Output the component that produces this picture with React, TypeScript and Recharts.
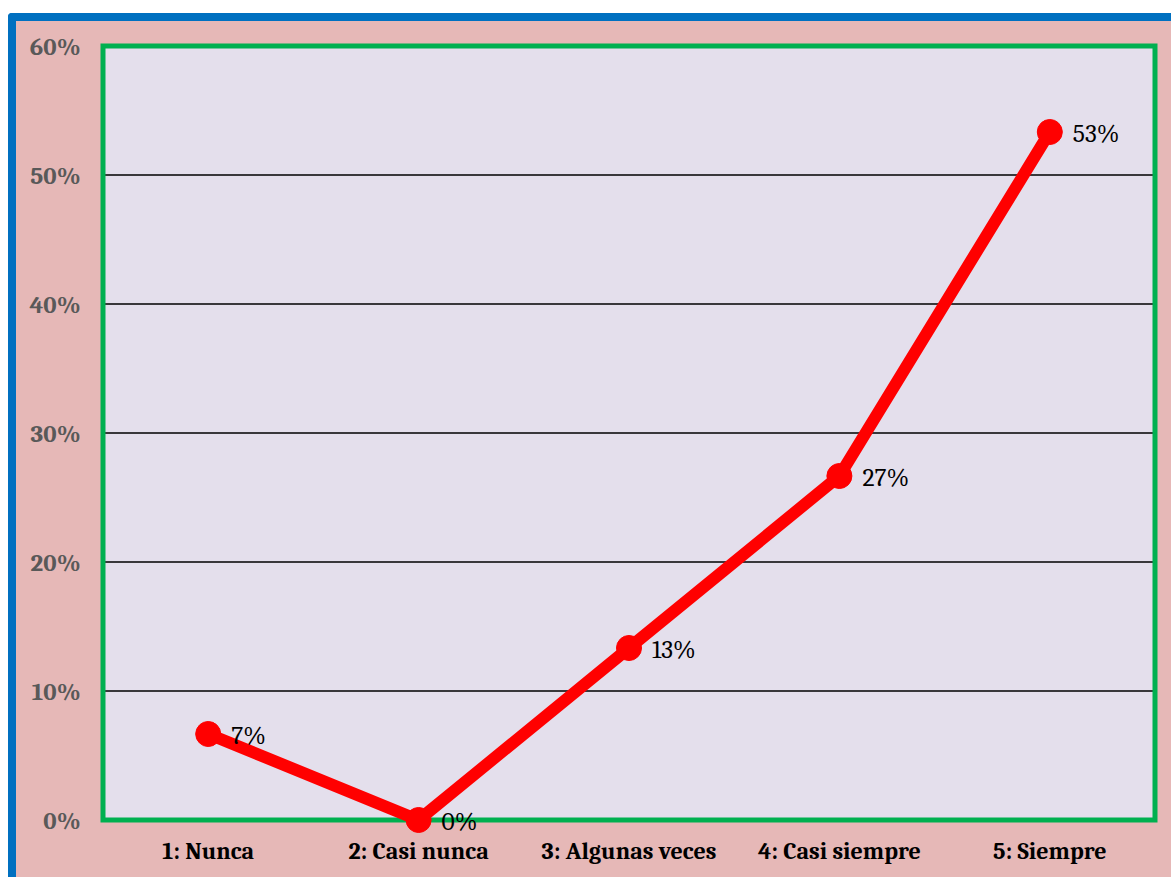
import React from "react";
import {
  LineChart,
  Line,
  XAxis,
  YAxis,
  CartesianGrid,
  ReferenceArea,
  LabelList,
} from "recharts";

// Survey responses (share of respondents per answer)
const categories = ["1: Nunca", "2: Casi nunca", "3: Algunas veces", "4: Casi siempre", "5: Siempre"];
const shares = [1 / 15, 0, 2 / 15, 4 / 15, 8 / 15];
const yTicks = [0, 0.1, 0.2, 0.3, 0.4, 0.5, 0.6];

const data = categories.map((name, i) => ({ name, value: shares[i] }));

const W = 1171;
const H = 877;
const SERIF = "Cambria, 'Liberation Serif', 'DejaVu Serif', serif";

const pct = (v: number) => `${Math.round(v * 100)}%`;

const ValueLabel = (props: any) => {
  const { x, y, value } = props;
  return (
    <text
      x={x + 23}
      y={y + 1}
      dominantBaseline="central"
      textAnchor="start"
      fontFamily={SERIF}
      fontSize={25.5}
      fill="#000000"
    >
      {pct(value)}
    </text>
  );
};

export default function App() {
  return (
    <div
      style={{
        position: "absolute",
        left: 0,
        top: 0,
        width: W,
        height: H,
        overflow: "hidden",
        background: "#ffffff",
      }}
    >
      <div
        style={{
          position: "absolute",
          left: 8,
          top: 13,
          width: W,
          height: H,
          boxSizing: "border-box",
          borderLeft: "8px solid #0070C0",
          borderTop: "8px solid #0070C0",
          borderTopLeftRadius: 4,
          background: "#E6B8B7",
        }}
      />
      <div style={{ position: "absolute", left: 0, top: 0 }}>
        <LineChart
          width={W}
          height={H}
          data={data}
          margin={{ top: 46, right: 16, bottom: 0, left: 0 }}
        >
          <CartesianGrid
            vertical={false}
            horizontal={true}
            stroke="#000000"
            strokeWidth={1.5}
            fill="#E4DFEC"
            fillOpacity={1}
          />
          <ReferenceArea
            y1={0}
            y2={0.6}
            fill="none"
            stroke="#00B050"
            strokeWidth={5}
            ifOverflow="visible"
          />
          <XAxis
            dataKey="name"
            scale="band"
            height={57}
            axisLine={false}
            tickLine={false}
            tickSize={0}
            tickMargin={22}
            interval={0}
            tick={{
              fill: "#000000",
              fontFamily: SERIF,
              fontSize: 24,
              fontWeight: 700,
            }}
          />
          <YAxis
            width={103}
            domain={[0, 0.6]}
            ticks={yTicks}
            tickFormatter={pct}
            axisLine={false}
            tickLine={false}
            tickSize={0}
            tickMargin={22}
            interval={0}
            tick={{
              fill: "#595959",
              fontFamily: SERIF,
              fontSize: 25,
              fontWeight: 700,
            }}
          />
          <Line
            type="linear"
            dataKey="value"
            stroke="#FF0000"
            strokeWidth={12}
            dot={{ r: 12.5, fill: "#FF0000", stroke: "#FF0000", strokeWidth: 1 }}
            activeDot={false}
            isAnimationActive={false}
          >
            <LabelList dataKey="value" content={ValueLabel} />
          </Line>
        </LineChart>
      </div>
    </div>
  );
}
